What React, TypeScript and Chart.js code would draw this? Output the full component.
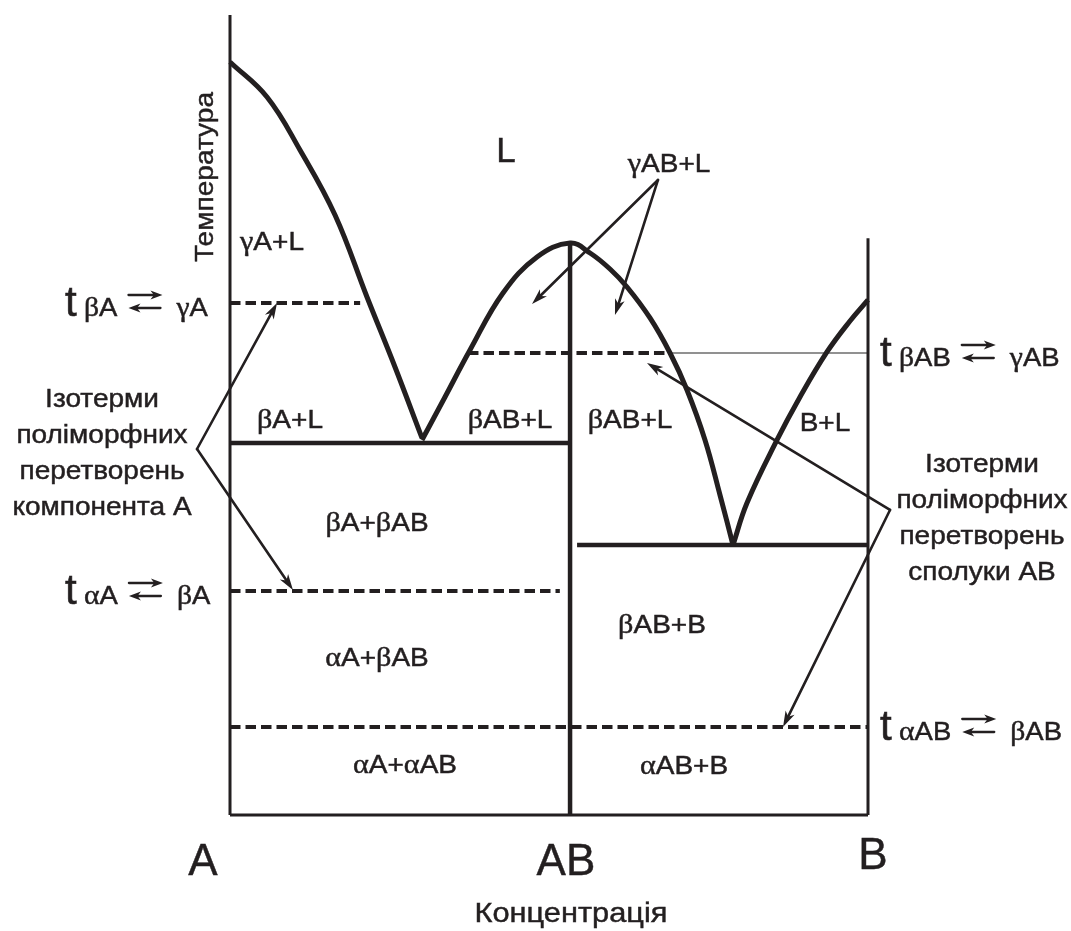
import React, { useEffect, useRef } from "react";
import { Chart, registerables } from "chart.js";

Chart.register(...registerables);

// ---------- data: composition (A = 0 … B = 100), temperature in relative units (0 … 100) ----------
const compA = 0;
const compAB = 53.3;
const compB = 100;
const axisTop = 100;
const rightAxisTop = 72.1;
const abMaximum = 71.5;

// liquidus of A (γA + L)
const liquidusA_x = [0, 5.8, 10.97, 16.46, 21.47, 25.86, 30.09];
const liquidusA_y = [94.13, 89.75, 83.13, 75.0, 64.75, 56.0, 47.13];

// liquidus of compound AB (congruent maximum)
const liquidusAB_x = [30.09, 33.7, 37.62, 42.79, 48.12, 53.3, 56.43, 59.56, 62.23, 65.83, 68.97, 71.63, 74.45, 76.8, 78.84];
const liquidusAB_y = [46.88, 52.25, 58.13, 65.25, 69.75, 71.5, 70.25, 68.25, 66.0, 62.13, 57.75, 53.13, 46.88, 40.0, 33.75];

// liquidus of B
const liquidusB_x = [78.84, 81.03, 85.74, 89.34, 93.57, 97.18, 100];
const liquidusB_y = [33.75, 39.0, 46.88, 52.25, 57.88, 61.75, 64.38];

// eutectic horizontals
const eutecticTemps = [46.5, 33.75];
const eutecticStartX = [0, 54.4];
const eutecticEndX = [53.3, 100];

// polymorphic isotherms
const isothermTemps = [64, 57.75, 28, 11];
const isothermStartX = [0, 37.3, 0, 0];
const isothermEndX = [20.4, 68.7, 51.7, 100];
const isothermFrom = ["βA", "βAB", "αA", "αAB"];
const isothermTo = ["γA", "γAB", "βA", "βAB"];
const isothermSide = ["left", "right", "left", "right"];
// thin continuation of the βAB ⇄ γAB isotherm
const thinIsothermX = [68.7, 100];

// phase-field labels
const regionLabels = ["γA+L", "L", "γAB+L", "βA+L", "βAB+L", "βAB+L", "B+L", "βA+βAB", "αA+βAB", "αA+αAB", "βAB+B", "αAB+B"];
const regionLabelX = [6.58, 43.26, 68.81, 9.4, 43.89, 62.7, 93.26, 23.04, 23.04, 27.43, 67.71, 71.16];
const regionLabelY = [70.63, 81.63, 80.38, 48.38, 48.38, 48.38, 48.0, 35.5, 18.63, 5.25, 22.75, 5.13];

// component labels under the axis
const componentLabels = ["A", "AB", "B"];
const componentLabelX = [-4.23, 52.66, 100.78];
const componentLabelY = [-7.5, -7.5, -6.75];

const xTitle = "Концентрація";
const yTitle = "Температура";

const noteLeft = ["Ізотерми", "поліморфних", "перетворень", "компонента А"];
const noteRight = ["Ізотерми", "поліморфних", "перетворень", "сполуки АВ"];

// pointer arrows (from -> to)
const arrowFromX = [-5.17, -5.17, 67.08, 67.08, 103.45, 103.45];
const arrowFromY = [45.75, 45.75, 79.38, 79.38, 38.13, 38.13];
const arrowToX = [7.37, 9.87, 47.34, 60.34, 65.36, 86.68];
const arrowToY = [64.0, 28.13, 63.88, 62.5, 56.5, 11.0];

// ---------- drawing helpers ----------
const INK = "#231f20";
const SANS = '"Liberation Sans", Arial, sans-serif';
const SERIF = '"Liberation Serif", "Times New Roman", serif';

function isGreek(ch: string) {
  return /[\u0370-\u03ff]/.test(ch);
}

function drawRich(
  ctx: CanvasRenderingContext2D,
  text: string,
  x: number,
  y: number,
  size: number,
  align: "left" | "center" | "right",
  stretch: number
) {
  const runs: { t: string; g: boolean }[] = [];
  for (const ch of text) {
    const g = isGreek(ch);
    if (runs.length && runs[runs.length - 1].g === g) runs[runs.length - 1].t += ch;
    else runs.push({ t: ch, g });
  }
  const font = (g: boolean) => (g ? `${Math.round(size * 1.08)}px ${SERIF}` : `${size}px ${SANS}`);
  let total = 0;
  const widths: number[] = [];
  for (const r of runs) {
    ctx.font = font(r.g);
    const w = ctx.measureText(r.t).width;
    widths.push(w);
    total += w;
  }
  const full = total * stretch;
  const start = align === "center" ? x - full / 2 : align === "right" ? x - full : x;
  ctx.save();
  ctx.fillStyle = INK;
  ctx.strokeStyle = INK;
  ctx.lineWidth = 0.45;
  ctx.textAlign = "left";
  ctx.textBaseline = "alphabetic";
  ctx.translate(start, y);
  ctx.scale(stretch, 1);
  let cx = 0;
  runs.forEach((r, i) => {
    ctx.font = font(r.g);
    ctx.fillText(r.t, cx, 0);
    ctx.strokeText(r.t, cx, 0);
    cx += widths[i];
  });
  ctx.restore();
  return start + full;
}

function drawArrow(
  ctx: CanvasRenderingContext2D,
  x1: number,
  y1: number,
  x2: number,
  y2: number,
  lw: number,
  len: number,
  half: number
) {
  const a = Math.atan2(y2 - y1, x2 - x1);
  const c = Math.cos(a);
  const s = Math.sin(a);
  const bx = x2 - c * len;
  const by = y2 - s * len;
  ctx.save();
  ctx.strokeStyle = INK;
  ctx.fillStyle = INK;
  ctx.lineWidth = lw;
  ctx.lineCap = "round";
  ctx.beginPath();
  ctx.moveTo(x1, y1);
  ctx.lineTo(x2 - c * len * 0.6, y2 - s * len * 0.6);
  ctx.stroke();
  ctx.beginPath();
  ctx.moveTo(x2, y2);
  ctx.lineTo(bx - s * half, by + c * half);
  ctx.lineTo(x2 - c * len * 0.72, y2 - s * len * 0.72);
  ctx.lineTo(bx + s * half, by - c * half);
  ctx.closePath();
  ctx.fill();
  ctx.restore();
}

function drawIsothermLabel(ctx: CanvasRenderingContext2D, x0: number, baseline: number, from: string, to: string) {
  ctx.save();
  ctx.fillStyle = INK;
  ctx.strokeStyle = INK;
  ctx.lineWidth = 0.6;
  ctx.font = `42px ${SANS}`;
  ctx.textAlign = "left";
  ctx.textBaseline = "alphabetic";
  ctx.fillText("t", x0, baseline);
  ctx.strokeText("t", x0, baseline);
  ctx.restore();
  const subEnd = drawRich(ctx, from, x0 + 19, baseline, 25, "left", 1.1);
  const ax = subEnd + 11;
  const len = 34;
  drawArrow(ctx, ax, baseline - 21, ax + len, baseline - 21, 2.3, 12, 4.5);
  drawArrow(ctx, ax + len - 2, baseline - 8, ax, baseline - 8, 2.3, 12, 4.5);
  drawRich(ctx, to, ax + len + 14, baseline, 25, "left", 1.1);
}

const annotationPlugin = {
  id: "phaseAnnotations",
  afterDatasetsDraw(chart: any) {
    const ctx: CanvasRenderingContext2D = chart.ctx;
    const xs = chart.scales.x;
    const ys = chart.scales.y;
    const px = (v: number) => xs.getPixelForValue(v);
    const py = (v: number) => ys.getPixelForValue(v);

    // region labels
    regionLabels.forEach((t, i) => {
      const big = t === "L";
      drawRich(ctx, t, px(regionLabelX[i]), py(regionLabelY[i]), big ? 35 : 25, "center", big ? 1 : 1.12);
    });

    // component labels
    componentLabels.forEach((t, i) => {
      drawRich(ctx, t, px(componentLabelX[i]), py(componentLabelY[i]), 44, "center", 1);
    });

    // axis titles
    drawRich(ctx, xTitle, px(53.45), py(-13.38), 28, "center", 1.1);
    ctx.save();
    ctx.translate(px(-2.66), py(79.75));
    ctx.rotate(-Math.PI / 2);
    drawRich(ctx, yTitle, 0, 0, 26, "center", 1.08);
    ctx.restore();

    // notes
    noteLeft.forEach((t, i) => drawRich(ctx, t, px(-20.06), py(51.0 - i * 4.5), 25, "center", 1.12));
    noteRight.forEach((t, i) => drawRich(ctx, t, px(117.87), py(42.88 - i * 4.5), 25, "center", 1.12));

    // isotherm labels
    isothermTemps.forEach((T, i) => {
      const x0 = isothermSide[i] === "left" ? px(-25.86) : px(101.88);
      drawIsothermLabel(ctx, x0, py(T) + 13, isothermFrom[i], isothermTo[i]);
    });

    // pointer arrows
    arrowFromX.forEach((_, i) => {
      drawArrow(ctx, px(arrowFromX[i]), py(arrowFromY[i]), px(arrowToX[i]), py(arrowToY[i]), 2.6, 16, 5);
    });
  },
};

function pts(xs: number[], ys: number[]) {
  return xs.map((x, i) => ({ x, y: ys[i] }));
}

function lineDs(data: { x: number; y: number }[], width: number, extra: any = {}) {
  return {
    data,
    showLine: true,
    borderColor: INK,
    backgroundColor: INK,
    borderWidth: width,
    pointRadius: 0,
    pointHoverRadius: 0,
    fill: false,
    clip: false,
    tension: 0,
    borderCapStyle: "butt",
    borderJoinStyle: "round",
    ...extra,
  };
}

export default function App() {
  const ref = useRef<HTMLCanvasElement>(null);

  useEffect(() => {
    if (!ref.current) return;
    const datasets: any[] = [];
    // frame
    datasets.push(lineDs([{ x: compA, y: 0 }, { x: compA, y: axisTop }], 3));
    datasets.push(lineDs([{ x: compA, y: 0 }, { x: compB, y: 0 }], 3));
    datasets.push(lineDs([{ x: compB, y: 0 }, { x: compB, y: rightAxisTop }], 3));
    datasets.push(lineDs([{ x: compAB, y: 0 }, { x: compAB, y: abMaximum }], 4.5));
    // liquidus curves
    datasets.push(lineDs(pts(liquidusA_x, liquidusA_y), 5, { tension: 0.4 }));
    datasets.push(lineDs(pts(liquidusAB_x, liquidusAB_y), 5, { tension: 0.4 }));
    datasets.push(lineDs(pts(liquidusB_x, liquidusB_y), 5, { tension: 0.4 }));
    // eutectics
    eutecticTemps.forEach((T, i) => {
      datasets.push(lineDs([{ x: eutecticStartX[i], y: T }, { x: eutecticEndX[i], y: T }], 4.5));
    });
    // isotherms
    isothermTemps.forEach((T, i) => {
      datasets.push(
        lineDs([{ x: isothermStartX[i], y: T }, { x: isothermEndX[i], y: T }], 4, { borderDash: [10.5, 5] })
      );
    });
    datasets.push(
      lineDs([{ x: thinIsothermX[0], y: isothermTemps[1] }, { x: thinIsothermX[1], y: isothermTemps[1] }], 1.5, {
        borderColor: "#6d6d6d",
      })
    );

    const chart = new Chart(ref.current, {
      type: "scatter",
      data: { datasets },
      options: {
        animation: false,
        responsive: false,
        maintainAspectRatio: false,
        events: [],
        layout: { padding: { left: 230, right: 203, top: 15, bottom: 116 } },
        scales: {
          x: { type: "linear", min: compA, max: compB, display: false },
          y: { type: "linear", min: 0, max: axisTop, display: false },
        },
        plugins: { legend: { display: false }, tooltip: { enabled: false } },
      },
      plugins: [annotationPlugin],
    } as any);
    return () => chart.destroy();
  }, []);

  return (
    <div style={{ position: "absolute", left: 0, top: 0, width: 1071, height: 931, background: "#fff" }}>
      <canvas ref={ref} width={1071} height={931} style={{ display: "block", width: 1071, height: 931 }} />
    </div>
  );
}
